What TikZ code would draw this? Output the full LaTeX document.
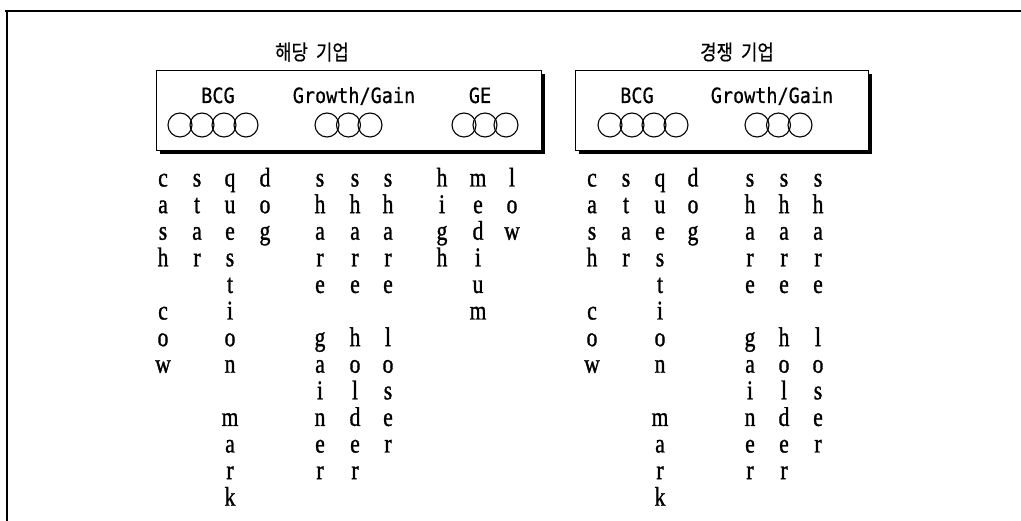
\documentclass[tikz,border=0pt]{standalone}
\usepackage{fontspec}
\usetikzlibrary{shadows}
\newfontfamily\krfont[FakeStretch=0.85,FakeBold=0.6]{Noto Sans CJK KR}
\newfontfamily\hdrfont[FakeStretch=0.88,FakeBold=0.6]{DejaVu Sans Mono}
\newfontfamily\letfont[FakeStretch=0.8,FakeBold=1.2]{Liberation Serif}
\newcommand{\vword}[4]{%
  \foreach \ch [count=\i from 0] in {#4} {
    \node[letter] (#1-\i) at (#2, {186.5+(#3-1+\i)*26.6}) {\ch};
  }}
\begin{document}
\begin{tikzpicture}[x=1pt,y=-1pt,
  frame/.style={line width=2.4pt, black},
  panel/.style={draw, line width=1pt, fill=white, inner sep=0pt,
    drop shadow={shadow xshift=3.5pt, shadow yshift=-3.5pt, fill=black, opacity=1}},
  ring/.style={draw, line width=1.1pt, circle, minimum size=24pt, inner sep=0pt},
  hdr/.style={anchor=base, inner sep=0pt, font=\hdrfont\fontsize{21}{21}\selectfont},
  ttl/.style={inner sep=0pt, font=\krfont\fontsize{21}{21}\selectfont},
  letter/.style={anchor=base, inner sep=0pt, font=\letfont\fontsize{27}{27}\selectfont}]
\useasboundingbox (0,0) rectangle (1021,521);
% outer frame
\draw[frame] (5,11) -- (1021,11);
\draw[frame] (7,10) -- (7,521);
% titles
\node[ttl] (t1) at (312,52) {해당\hspace{4pt} 기업};
\node[ttl] (t2) at (737,52) {경쟁\hspace{4pt} 기업};
% panels
\node[panel, minimum width=385pt, minimum height=80pt] (p1) at (348.5,110.5) {};
\node[panel, minimum width=293pt, minimum height=80pt] (p2) at (721.5,110.5) {};
% panel headers
\node[hdr] (h1) at (218,103) {BCG};
\node[hdr] (h2) at (354,103) {Growth/Gain};
\node[hdr] (h3) at (480,103) {GE};
\node[hdr] (h4) at (637,103) {BCG};
\node[hdr] (h5) at (772,103) {Growth/Gain};
% circles
\foreach \cx [count=\k] in {180,202,224,246} \node[ring] (c1-\k) at (\cx,125) {};
\foreach \cx [count=\k] in {327,348.5,370} \node[ring] (c2-\k) at (\cx,125) {};
\foreach \cx [count=\k] in {464,485,506} \node[ring] (c3-\k) at (\cx,125) {};
\foreach \cx [count=\k] in {610,632,654,676} \node[ring] (c4-\k) at (\cx,125) {};
\foreach \cx [count=\k] in {757,778.5,800} \node[ring] (c5-\k) at (\cx,125) {};
% left group words
\vword{Lcash}{163}{1}{c,a,s,h}
\vword{Lcow}{163}{6}{c,o,w}
\vword{Lstar}{197}{1}{s,t,a,r}
\vword{Lquestion}{230}{1}{q,u,e,s,t,i,o,n}
\vword{Lmark}{230}{10}{m,a,r,k}
\vword{Ldog}{265}{1}{d,o,g}
\vword{Lshareg}{320}{1}{s,h,a,r,e}
\vword{Lgainer}{320}{7}{g,a,i,n,e,r}
\vword{Lshareh}{355}{1}{s,h,a,r,e}
\vword{Lholder}{355}{7}{h,o,l,d,e,r}
\vword{Lsharel}{388}{1}{s,h,a,r,e}
\vword{Lloser}{388}{7}{l,o,s,e,r}
\vword{Lhigh}{442}{1}{h,i,g,h}
\vword{Lmedium}{478}{1}{m,e,d,i,u,m}
\vword{Llow}{512}{1}{l,o,w}
% right group words
\vword{Rcash}{592}{1}{c,a,s,h}
\vword{Rcow}{592}{6}{c,o,w}
\vword{Rstar}{626}{1}{s,t,a,r}
\vword{Rquestion}{660}{1}{q,u,e,s,t,i,o,n}
\vword{Rmark}{660}{10}{m,a,r,k}
\vword{Rdog}{693}{1}{d,o,g}
\vword{Rshareg}{750}{1}{s,h,a,r,e}
\vword{Rgainer}{750}{7}{g,a,i,n,e,r}
\vword{Rshareh}{784}{1}{s,h,a,r,e}
\vword{Rholder}{784}{7}{h,o,l,d,e,r}
\vword{Rsharel}{818}{1}{s,h,a,r,e}
\vword{Rloser}{818}{7}{l,o,s,e,r}
\end{tikzpicture}
\end{document}
